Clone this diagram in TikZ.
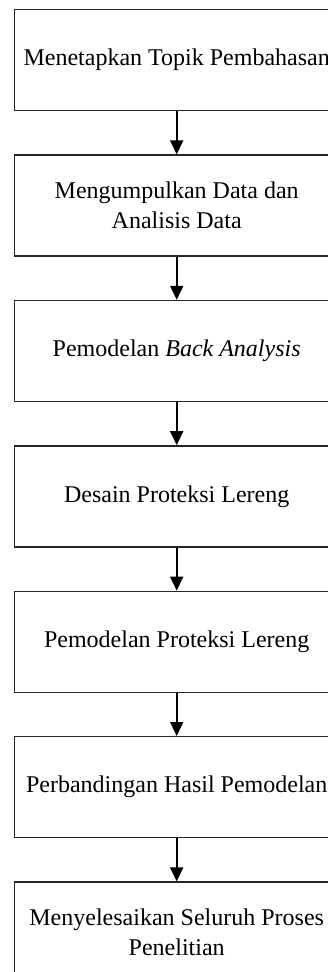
\documentclass[tikz,border=0pt]{standalone}
\usepackage{fontspec}
\setmainfont{Liberation Serif}
\usetikzlibrary{positioning,arrows.meta}
\begin{document}
\begin{tikzpicture}[
    kotak/.style={draw=black!85, line width=0.7pt, minimum width=162pt, minimum height=50.5pt, align=center, font=\fontsize{12}{15}\selectfont, inner sep=2pt},
    panah/.style={-{Triangle[width=6.5pt,length=7pt]}, line width=0.9pt},
    node distance=21.5pt
    ]
    \useasboundingbox (0,0) rectangle (163.5pt,-486pt);

    % Kotak diagram
    \node[kotak, anchor=north west] (topik) at (7pt,-4.5pt) {Menetapkan Topik Pembahasan};
    \node[kotak, below=of topik] (data) {Mengumpulkan Data dan\\Analisis Data};
    \node[kotak, below=of data] (back) {Pemodelan \textit{Back Analysis}};
    \node[kotak, below=of back] (desain) {Desain Proteksi Lereng};
    \node[kotak, below=of desain] (proteksi) {Pemodelan Proteksi Lereng};
    \node[kotak, below=of proteksi] (banding) {Perbandingan Hasil Pemodelan};
    \node[kotak, below=of banding] (selesai) {Menyelesaikan Seluruh Proses\\Penelitian};

    % Panah
    \draw[panah] (topik) -- (data);
    \draw[panah] (data) -- (back);
    \draw[panah] (back) -- (desain);
    \draw[panah] (desain) -- (proteksi);
    \draw[panah] (proteksi) -- (banding);
    \draw[panah] (banding) -- (selesai);
\end{tikzpicture}
\end{document}
